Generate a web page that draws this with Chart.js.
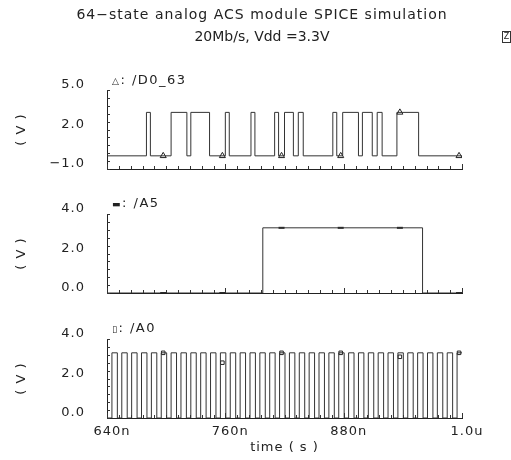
<!DOCTYPE html>
<html>
<head>
<meta charset="utf-8">
<script src="https://cdn.jsdelivr.net/npm/chart.js@4.4.1/dist/chart.umd.min.js"></script>
<style>
  body { margin: 0; background: #fff; }
  #wrap { position: relative; width: 511px; height: 460px; font-family: "DejaVu Sans", sans-serif; color: #222; overflow: hidden; }
  #wrap canvas { position: absolute; left: 0; top: 0; }
  .txt { position: absolute; white-space: nowrap; font-size: 14px; line-height: 16px; }
  .ctr { transform: translateX(-50%); }
  .sig { font-size: 13px; letter-spacing: 1.5px; }
  .mk { font-size: 9px; }
  #icon { position: absolute; left: 502px; top: 31px; width: 7px; height: 10px; border: 1px solid #333; font-size: 8px; line-height: 10px; text-align: center; }
</style>
</head>
<body>
<div id="wrap">
  <canvas id="c1" width="511" height="460"></canvas>
  <canvas id="c2" width="511" height="460"></canvas>
  <canvas id="c3" width="511" height="460"></canvas>
  <div class="txt ctr" style="left:262px; top:6px; letter-spacing:1px;">64−state analog ACS module SPICE simulation</div>
  <div class="txt ctr" style="left:262px; top:28px;">20Mb/s, Vdd =3.3V</div>
  <div id="icon">Z</div>
  <div class="txt sig" style="left:112px; top:72px;"><span class="mk">△</span>: /D0_63</div>
  <div class="txt sig" style="left:112px; top:195px;"><span class="mk">▬</span>: /A5</div>
  <div class="txt sig" style="left:112px; top:320px;"><span class="mk">▯</span>: /A0</div>
</div>
<script>
const timeTicks = [640, 760, 880, 1000];
const timeTickLabels = ["640n", "760n", "880n", "1.0u"];
const markerTimes = [697, 757, 817, 877, 937, 997];
const lowLevel = 0;
const highLevel = 3.3;

// /D0_63 edges (ns)
const d0Rise = [680, 705, 725, 760, 786, 810, 820, 834, 869, 879, 899, 914, 934];
const d0Fall = [684, 721, 744, 764, 790, 814, 829, 839, 873, 895, 909, 919, 956];
const d0Marks = [0, 0, 0, 0, 3.3, 0];

// /A5 edges (ns)
const a5Rise = [798];
const a5Fall = [960];
const a5Marks = [0, 0, 3.3, 3.3, 3.3, 0];

// /A0 edges (ns)
const a0Rise = [645, 655, 665, 675, 685, 695, 705, 715, 725, 735, 745, 755, 765, 775, 785, 795, 805, 815,
  825, 835, 845, 855, 865, 875, 885, 895, 905, 915, 925, 935, 945, 955, 965, 975, 985, 995];
const a0Fall = [650.5, 660.5, 670.5, 680.5, 690.5, 700.5, 710.5, 720.5, 730.5, 740.5, 750.5, 760.5, 770.5,
  780.5, 790.5, 800.5, 810.5, 820.5, 830.5, 840.5, 850.5, 860.5, 870.5, 880.5, 890.5, 900.5, 910.5, 920.5,
  930.5, 940.5, 950.5, 960.5, 970.5, 980.5, 990.5];
const a0Marks = [3.3, 2.8, 3.3, 3.3, 3.1, 3.3];

const FONT = { family: "DejaVu Sans", size: 13 };
const INK = "#222";

function wave(rises, falls) {
  const edges = rises.map(t => ({ x: t, y: highLevel }))
    .concat(falls.map(t => ({ x: t, y: lowLevel })))
    .sort((a, b) => a.x - b.x);
  const pts = [{ x: 640, y: lowLevel }].concat(edges);
  pts.push({ x: 1000, y: pts[pts.length - 1].y });
  return pts;
}

function marks(vals) {
  return markerTimes.map((t, i) => ({ x: t, y: vals[i] }));
}

function near(v, list) {
  return list.findIndex(m => Math.abs(m - v) < 1e-6);
}

// small tick marks pointing into the plot
const innerTicks = {
  id: "innerTicks",
  afterDraw(chart) {
    const { ctx, chartArea } = chart;
    const xs = chart.scales.x, ys = chart.scales.y;
    ctx.save();
    ctx.strokeStyle = "#333";
    ctx.lineWidth = 1;
    ctx.beginPath();
    xs.ticks.forEach(t => {
      const px = Math.round(xs.getPixelForValue(t.value)) + 0.5;
      const len = near(t.value, timeTicks) >= 0 ? 5 : 3;
      ctx.moveTo(px, chartArea.bottom);
      ctx.lineTo(px, chartArea.bottom - len);
    });
    ys.ticks.forEach(t => {
      const py = Math.round(ys.getPixelForValue(t.value)) + 0.5;
      ctx.moveTo(chartArea.left, py);
      ctx.lineTo(chartArea.left + 3, py);
    });
    ctx.stroke();
    ctx.restore();
  }
};

const spacing = {
  id: "spacing",
  beforeDraw(chart) { chart.ctx.letterSpacing = "1px"; }
};

function panel(id, p) {
  const yStep = (p.yMax - p.yMin) / 10;
  const yVals = [];
  for (let i = 0; i <= 10; i++) yVals.push(p.yMin + i * yStep);
  const xVals = [];
  for (let v = 640; v <= 1000; v += 12) xVals.push(v);

  return new Chart(document.getElementById(id), {
    type: "line",
    data: {
      datasets: [
        {
          data: wave(p.rise, p.fall),
          stepped: true,
          borderColor: "#333",
          borderWidth: 1,
          pointRadius: 0,
          fill: false
        },
        {
          data: marks(p.marks),
          showLine: false,
          pointStyle: p.style,
          pointRadius: p.radius,
          pointBorderColor: INK,
          pointBackgroundColor: p.fillMark,
          pointBorderWidth: p.markWidth
        }
      ]
    },
    options: {
      responsive: false,
      animation: false,
      devicePixelRatio: 1,
      layout: { padding: { top: p.top, bottom: p.bottom, left: 0, right: 49 } },
      plugins: { legend: { display: false }, tooltip: { enabled: false } },
      scales: {
        x: {
          type: "linear",
          min: 640,
          max: 1000,
          afterFit: s => { s.height = p.showX ? 42 : 0; },
          afterBuildTicks: s => { s.ticks = xVals.map(v => ({ value: v })); },
          grid: { display: false, drawTicks: false },
          border: { color: INK, width: 1 },
          ticks: {
            display: p.showX,
            autoSkip: false,
            maxRotation: 0,
            padding: 6,
            labelOffset: 5,
            color: INK,
            font: FONT,
            callback: v => {
              const i = near(v, timeTicks);
              return i >= 0 ? timeTickLabels[i] : "";
            }
          },
          title: {
            display: p.showX,
            text: "time ( s )",
            color: INK,
            font: FONT,
            padding: { top: 0, bottom: 5 }
          }
        },
        y: {
          min: p.yMin,
          max: p.yMax,
          afterFit: s => { s.width = 107; },
          afterBuildTicks: s => { s.ticks = yVals.map(v => ({ value: v })); },
          grid: { display: false, drawTicks: false },
          border: { color: INK, width: 1 },
          ticks: {
            autoSkip: false,
            padding: 22,
            labelOffset: -5,
            color: INK,
            font: FONT,
            callback: v => {
              if (near(v, p.yLabels) < 0) return "";
              return (v < 0 ? "−" : "") + Math.abs(v).toFixed(1);
            }
          },
          title: {
            display: true,
            text: "( V )",
            color: INK,
            font: FONT,
            padding: { top: 14, bottom: 0 }
          }
        }
      }
    },
    plugins: [spacing, innerTicks]
  });
}

panel("c1", {
  rise: d0Rise, fall: d0Fall, marks: d0Marks,
  style: "triangle", radius: 3.5, fillMark: "#fff", markWidth: 1,
  yMin: -1, yMax: 5, yLabels: [-1, 2, 5],
  top: 90, bottom: 291, showX: false
});

panel("c2", {
  rise: a5Rise, fall: a5Fall, marks: a5Marks,
  style: "line", radius: 3, fillMark: INK, markWidth: 2,
  yMin: 0, yMax: 4, yLabels: [0, 2, 4],
  top: 214, bottom: 167, showX: false
});

panel("c3", {
  rise: a0Rise, fall: a0Fall, marks: a0Marks,
  style: "rect", radius: 2.5, fillMark: "#fff", markWidth: 1,
  yMin: 0, yMax: 4, yLabels: [0, 2, 4],
  top: 339, bottom: 0, showX: true
});
</script>
</body>
</html>
